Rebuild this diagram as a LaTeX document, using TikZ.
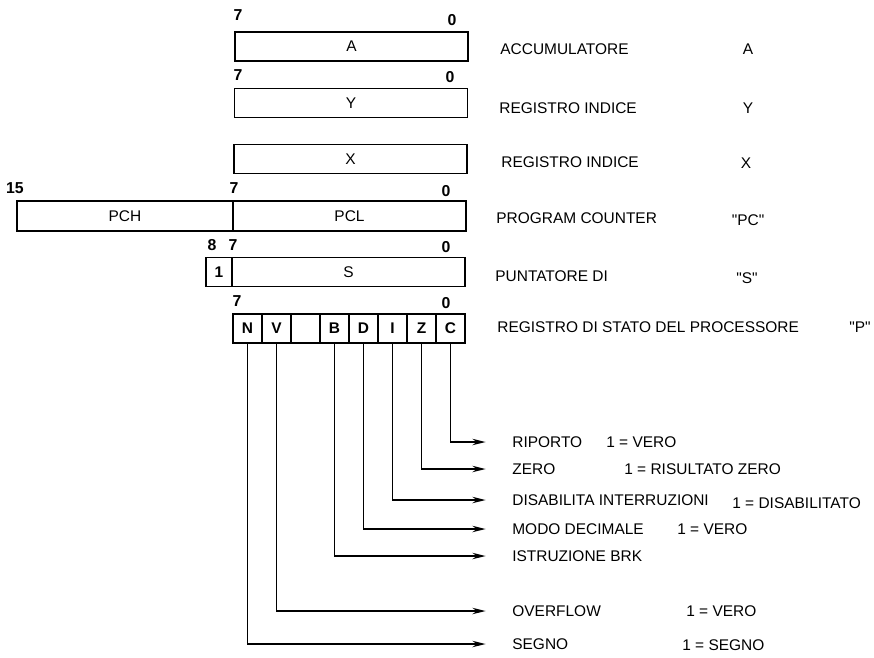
\documentclass[tikz,border=0pt]{standalone}
\usepackage{fontspec}
\setmainfont{Liberation Sans}[Ligatures=TeXOff]
\usetikzlibrary{arrows.meta}

\begin{document}
\begin{tikzpicture}[>={Stealth[length=7.5pt,width=3.6pt]},x=0.02cm,y=-0.02cm,
  font=\fontsize{8.8}{10}\selectfont,
  reg/.style={draw,line width=1.1pt,minimum height=0.58cm,inner sep=0},
  bit/.style={font=\fontsize{9}{10}\selectfont\bfseries},
  flag/.style={reg,minimum width=0.58cm,font=\fontsize{8.8}{10}\selectfont\bfseries},
  txt/.style={anchor=west,inner sep=0},
  link/.style={->,line width=1.1pt,shorten >=15pt}]
  \useasboundingbox (0,0) rectangle (874,657);

  \node[reg,minimum width=4.66cm] (A) at (351.5,46.5) {A};
  \node[bit] (A7) at (238,15) {7};
  \node[bit] (A0) at (452,20) {0};
  \node[txt] (Aname) at (500,49) {ACCUMULATORE};
  \node (Asym) at (748,49) {A};

  \node[reg,minimum width=4.66cm] (Y) at (351,103) {Y};
  \node[bit] (Y7) at (238,75) {7};
  \node[bit] (Y0) at (450,77) {0};
  \node[txt] (Yname) at (499,108) {REGISTRO INDICE};
  \node (Ysym) at (748,108) {Y};

  \node[reg,minimum width=4.66cm] (X) at (350.5,159) {X};
  \node[txt] (Xname) at (501,162) {REGISTRO INDICE};
  \node (Xsym) at (746,163) {X};

  \node[reg,minimum width=4.32cm,minimum height=0.6cm] (PCH) at (125,216) {PCH};
  \node[reg,minimum width=4.66cm,minimum height=0.6cm] (PCL) at (349.5,216) {PCL};
  \node[bit] (PC15) at (15,188) {15};
  \node[bit] (PC7) at (234,188) {7};
  \node[bit] (PC0) at (446,191) {0};
  \node[txt] (PCname) at (496,218) {PROGRAM COUNTER};
  \node (PCsym) at (748,220) {"PC"};

  \node[reg,minimum width=0.52cm,font=\fontsize{8.8}{10}\selectfont\bfseries] (S8) at (219,272) {1};
  \node[reg,minimum width=4.66cm] (S) at (348.5,272) {S};
  \node[bit] (S8n) at (212,245) {8};
  \node[bit] (S7) at (233,245) {7};
  \node[bit] (S0) at (446,247) {0};
  \node[txt] (Sname) at (495,276) {PUNTATORE DI};
  \node (Ssym) at (747,278) {"S"};

  \node[flag] (fN) at (247.5,328.5) {N};
  \node[flag] (fV) at (276.5,328.5) {V};
  \node[flag] (fE) at (305.5,328.5) {};
  \node[flag] (fB) at (334.5,328.5) {B};
  \node[flag] (fD) at (363.5,328.5) {D};
  \node[flag] (fI) at (392.5,328.5) {I};
  \node[flag] (fZ) at (421.5,328.5) {Z};
  \node[flag] (fC) at (450.5,328.5) {C};
  \node[bit] (P7) at (237,301) {7};
  \node[bit] (P0) at (446,303) {0};
  \node[txt] (Pname) at (497,327) {REGISTRO DI STATO DEL PROCESSORE};
  \node (Psym) at (860,327) {"P"};

  \node[txt] (lC) at (512,442) {RIPORTO};
  \node[txt] (vC) at (606,442) {1 = VERO};
  \node[txt] (lZ) at (512,469) {ZERO};
  \node[txt] (vZ) at (624,469) {1 = RISULTATO ZERO};
  \node[txt] (lI) at (512,500) {DISABILITA INTERRUZIONI};
  \node[txt] (vI) at (732,503) {1 = DISABILITATO};
  \node[txt] (lD) at (512,529) {MODO DECIMALE};
  \node[txt] (vD) at (677,529) {1 = VERO};
  \node[txt] (lB) at (512,556) {ISTRUZIONE BRK};
  \node[txt] (lV) at (512,611) {OVERFLOW};
  \node[txt] (vV) at (686,611) {1 = VERO};
  \node[txt] (lN) at (512,644) {SEGNO};
  \node[txt] (vN) at (682,645) {1 = SEGNO};

  \draw[link] (fC.south) |- (lC.west);
  \draw[link] (fZ.south) |- (lZ.west);
  \draw[link] (fI.south) |- (lI.west);
  \draw[link] (fD.south) |- (lD.west);
  \draw[link] (fB.south) |- (lB.west);
  \draw[link] (fV.south) |- (lV.west);
  \draw[link] (fN.south) |- (lN.west);
\end{tikzpicture}
\end{document}
